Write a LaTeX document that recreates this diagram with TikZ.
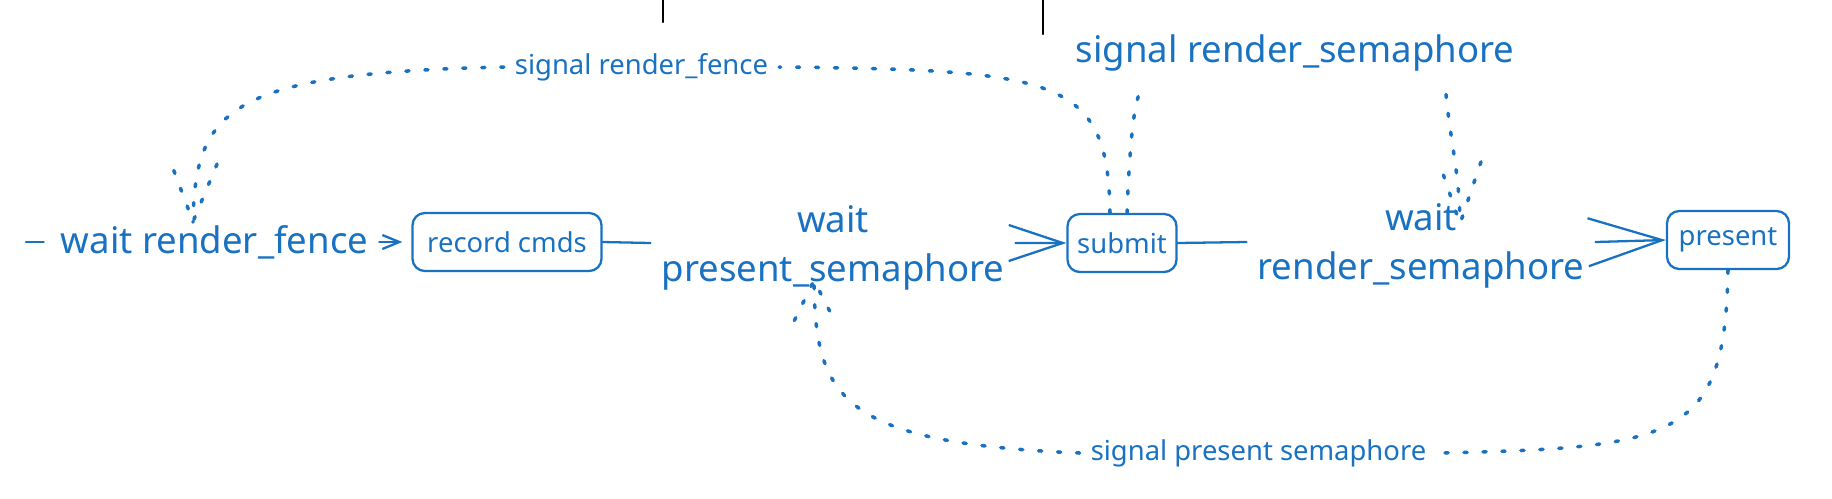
\documentclass[tikz,border=0pt]{standalone}
\usepackage{fontspec}
\setmainfont{Noto Sans}
\usetikzlibrary{arrows.meta,decorations.markings}
\definecolor{inkblue}{HTML}{1971C2}
\begin{document}
\begin{tikzpicture}[line join=round, line cap=round, >={Straight Barb[length=0.54cm,width=0.36cm]},
	inkblue, line width=0.65pt,
	big/.style={font=\fontsize{10.4}{14}\selectfont, align=center, inner sep=0.1cm},
	small/.style={font=\fontsize{7.8}{9}\selectfont, inner sep=0.1cm},
	stepbox/.style={draw, rounded corners=3.5pt, font=\fontsize{7.8}{9}\selectfont, minimum height=0.58cm, inner sep=0pt},
	sig/.style={line width=1pt, dash pattern=on 0.9pt off 4.5pt},
	sigtip/.style 2 args={decoration={markings, mark=at position 0.999 with {\draw[sig] (-#1,#2)--(0,0)--(-#1,-#2);}}, postaction=decorate}]
	\useasboundingbox (0,0) rectangle (18.32,4.98);
	%\draw[help lines] (0,0) grid (18,5);
	\node[big] (fence) at (2.145,2.56) {wait render\_fence};
	\node[stepbox, minimum width=1.89cm] (rec) at (5.07,2.56) {record cmds};
	\node[big] (wait1) at (8.33,2.50) {wait\\present\_semaphore};
	\node[stepbox, minimum width=1.09cm] (submit) at (11.22,2.55) {submit};
	\node[big] (wait2) at (14.21,2.52) {wait\\render\_semaphore};
	\node[stepbox, minimum width=1.22cm] (present) at (17.28,2.58) {present};
	\node[small] (lbfence) at (6.415,4.31) {signal render\_fence};
	\node[big] (lbsem) at (12.95,4.45) {signal render\_semaphore};
	\node[small] (lbpres) at (12.585,0.45) {signal present semaphore};
	\coordinate (lstart) at (0.26,2.56);
	\draw[black] (6.63,4.98) -- (6.63,4.76) (10.43,4.98) -- (10.43,4.64);
	\draw (lstart) -- ([xshift=-0.06cm]fence.west);
	\draw[-{Straight Barb[length=0.17cm,width=0.14cm]}, shorten >=0.09cm] (fence.east) -- (rec.west);
	\draw (rec.east) -- ([yshift=0.05cm]wait1.west);
	\draw[->] ([yshift=0.05cm]wait1.east) -- (submit.west);
	\draw (submit.east) -- ([yshift=0.04cm]wait2.west);
	\draw[-{Straight Barb[length=0.74cm,width=0.48cm]}] ([yshift=0.04cm]wait2.east) -- (present.west);
	\draw[sig] ([xshift=-0.12cm]submit.north) .. controls (11.08,4.2) and (10.6,4.28) .. (lbfence.east);
	\draw[sig, sigtip={0.58}{0.23}] (lbfence.west) .. controls (2.3,4.25) and (1.95,3.9) .. ([shift={(-0.215,0.2)}]fence.center);
	\draw[sig] ([xshift=0.05cm]submit.north) .. controls (11.3,3.6) and (11.34,3.9) .. ([xshift=-1.56cm,yshift=-0.12cm]lbsem.south);
	\draw[sig, sigtip={0.62}{0.21}] ([xshift=1.51cm,yshift=-0.12cm]lbsem.south) .. controls (14.5,3.6) and (14.6,3.2) .. ([shift={(0.39,0.22)}]wait2.center);
	\draw[sig] (present.south) .. controls (17.25,0.6) and (16.8,0.5) .. (lbpres.east);
	\draw[sig, sigtip={0.4}{0.2}] (lbpres.west) .. controls (8.4,0.55) and (8.15,1.0) .. ([shift={(-0.19,-0.32)}]wait1.center);
\end{tikzpicture}
\end{document}
